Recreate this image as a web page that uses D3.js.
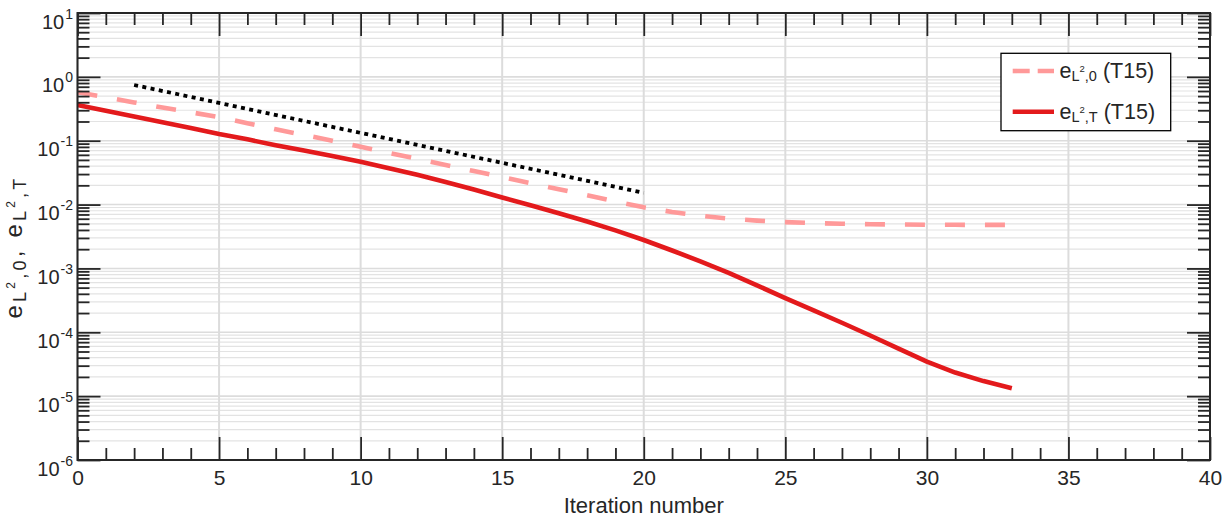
<!DOCTYPE html>
<html><head><meta charset="utf-8">
<script src="https://cdn.jsdelivr.net/npm/d3@7"></script>
<style>
body{margin:0;background:#fff}
svg{display:block}
text{font-family:"Liberation Sans",Arial,Helvetica,sans-serif;fill:#262626}
</style>
</head><body>
<svg id="c" width="1232" height="517"></svg>
<script>
// ---------- data ----------
const iterations = [0,1,2,3,4,5,6,7,8,9,10,11,12,13,14,15,16,17,18,19,20,21,22,23,24,25,26,27,28,29,30,31,32,33];
const errL2_0 = [0.573,0.479,0.398,0.331,0.279,0.233,0.188,0.151,0.123,0.100,
  0.0807,0.0646,0.0519,0.0417,0.0335,0.0269,0.0216,0.0174,0.0140,0.0112,
  0.00906,0.00767,0.00668,0.00603,0.00560,0.00531,0.00513,0.00501,0.00493,0.00488,
  0.00484,0.00482,0.00481,0.00480];
const errL2_T = [0.363,0.295,0.240,0.195,0.158,0.127,0.105,0.0851,0.0700,0.0575,
  0.0468,0.0372,0.0292,0.0226,0.0172,0.0129,0.00977,0.00733,0.00543,0.00394,
  0.00279,0.00191,0.00129,8.51e-4,5.43e-4,3.43e-4,2.21e-4,1.41e-4,8.91e-5,5.56e-5,
  3.47e-5,2.34e-5,1.72e-5,1.33e-5];
const refX = [2, 20];
const refY = [0.746, 0.0153];
const xTicks = [0,5,10,15,20,25,30,35,40];
const yTickExps = [1,0,-1,-2,-3,-4,-5,-6];
const xLabel = "Iteration number";
const legendSub = ["0","T"];
const legendTag = "(T15)";

// ---------- layout ----------
const L=77.5, R=1210, T=13, B=460;
const svg = d3.select("#c");
const x = d3.scaleLinear().domain([0,40]).range([L,R]);
const y = d3.scaleLog().domain([1e-6,10]).range([B,T]);
const axisColor = "#262626";

svg.append("rect").attr("x",0).attr("y",0).attr("width",1232).attr("height",517).attr("fill","#fff");

// grid
const yAll = y.ticks();
const isMajorY = v => Math.abs(Math.log10(v)-Math.round(Math.log10(v)))<1e-9;
const grid = svg.append("g");
grid.selectAll(".ym").data(yAll.filter(v=>!isMajorY(v))).join("line")
  .attr("x1",L).attr("x2",R).attr("y1",d=>y(d)).attr("y2",d=>y(d))
  .attr("stroke","#e3e3e3").attr("stroke-width",1.2);
grid.selectAll(".yM").data(yAll.filter(isMajorY)).join("line")
  .attr("x1",L).attr("x2",R).attr("y1",d=>y(d)).attr("y2",d=>y(d))
  .attr("stroke","#dcdcdc").attr("stroke-width",1.6);
grid.selectAll(".xM").data(xTicks).join("line")
  .attr("y1",T).attr("y2",B).attr("x1",d=>x(d)).attr("x2",d=>x(d))
  .attr("stroke","#dcdcdc").attr("stroke-width",2);

// clip
svg.append("clipPath").attr("id","clip").append("rect")
  .attr("x",L).attr("y",T).attr("width",R-L).attr("height",B-T);
const plot = svg.append("g").attr("clip-path","url(#clip)");

const line = d3.line().x(d=>x(d[0])).y(d=>y(d[1]));
plot.append("path").datum(d3.zip(refX,refY)).attr("d",line)
  .attr("fill","none").attr("stroke","#000").attr("stroke-width",3.8)
  .attr("stroke-dasharray","4,4.4");
plot.append("path").datum(d3.zip(iterations,errL2_0)).attr("d",line)
  .attr("fill","none").attr("stroke","#ff9999").attr("stroke-width",4.6)
  .attr("stroke-dasharray","20,20");
plot.append("path").datum(d3.zip(iterations,errL2_T)).attr("d",line)
  .attr("fill","none").attr("stroke","#e31a1c").attr("stroke-width",4.6)
  .attr("stroke-linejoin","round");

// axes (ticks inward)
const xMinor = x.ticks(40).filter(v=>xTicks.indexOf(v)<0);
const yMinor = yAll.filter(v=>!isMajorY(v));
const yMajor = yTickExps.map(e=>Math.pow(10,e));
function styleAxis(g){
  g.select(".domain").remove();
  g.selectAll(".tick line").attr("stroke",axisColor).attr("stroke-width",1.8);
}
// bottom
svg.append("g").attr("transform",`translate(0,${B})`)
  .call(d3.axisBottom(x).tickValues(xMinor).tickSize(-12).tickFormat("")).call(styleAxis);
const gxb = svg.append("g").attr("transform",`translate(0,${B})`)
  .call(d3.axisBottom(x).tickValues(xTicks).tickSize(-23).tickPadding(0).tickFormat(d3.format("d"))).call(styleAxis);
gxb.selectAll("text").attr("font-size",21).attr("fill",axisColor).attr("dy",null).attr("y",25)
  .style("font-family",'"Liberation Sans",Arial,sans-serif');
// top
svg.append("g").attr("transform",`translate(0,${T})`)
  .call(d3.axisTop(x).tickValues(xMinor).tickSize(-12).tickFormat("")).call(styleAxis);
svg.append("g").attr("transform",`translate(0,${T})`)
  .call(d3.axisTop(x).tickValues(xTicks).tickSize(-23).tickFormat("")).call(styleAxis);
// left
svg.append("g").attr("transform",`translate(${L},0)`)
  .call(d3.axisLeft(y).tickValues(yMinor).tickSize(-12).tickFormat("")).call(styleAxis);
const gyl = svg.append("g").attr("transform",`translate(${L},0)`)
  .call(d3.axisLeft(y).tickValues(yMajor).tickSize(-23).tickFormat("")).call(styleAxis);
// right
svg.append("g").attr("transform",`translate(${R},0)`)
  .call(d3.axisRight(y).tickValues(yMinor).tickSize(-12).tickFormat("")).call(styleAxis);
svg.append("g").attr("transform",`translate(${R},0)`)
  .call(d3.axisRight(y).tickValues(yMajor).tickSize(-23).tickFormat("")).call(styleAxis);

// y tick labels 10^e
gyl.selectAll(".tick").each(function(d){
  const e = Math.round(Math.log10(d));
  const t = d3.select(this).append("text").attr("x",-4.5).attr("y",15)
    .attr("text-anchor","end").attr("fill",axisColor);
  t.append("tspan").attr("font-size",20).text("10");
  t.append("tspan").attr("font-size",14).attr("dx",1).attr("dy",-10).text(e<0?("-"+(-e)):String(e));
});

// box
svg.append("rect").attr("x",L).attr("y",T).attr("width",R-L).attr("height",B-T)
  .attr("fill","none").attr("stroke",axisColor).attr("stroke-width",2);

// rich text helper: parts = [text, size, baselineOffset]
function rich(t, parts){
  let prev = 0;
  parts.forEach(p=>{
    t.append("tspan").attr("font-size",p[1]).attr("dy",p[2]-prev).text(p[0]);
    prev = p[2];
  });
}

// axis titles
svg.append("text").attr("x",(L+R)/2).attr("y",513).attr("text-anchor","middle")
  .attr("font-size",22).attr("fill",axisColor).text(xLabel);
const yl = svg.append("text").attr("text-anchor","middle").attr("fill",axisColor)
  .attr("letter-spacing",3.2)
  .attr("transform",`translate(22,247) rotate(-90)`);
rich(yl,[["e",24,0],["L",18,4],["2",12,-7.5],[","+legendSub[0],18,4],[", e",24,0],
  ["L",18,4],["2",12,-7.5],[","+legendSub[1],18,4]]);

// legend
const lg = svg.append("g");
lg.append("rect").attr("x",1001).attr("y",53.3).attr("width",169.7).attr("height",77.4)
  .attr("fill","#fff").attr("stroke","#000").attr("stroke-width",1.3);
const entries = [
  {sub:legendSub[0], color:"#ff9999", dash:"17,8", ly:71},
  {sub:legendSub[1], color:"#e31a1c", dash:null, ly:111.7}
];
entries.forEach(en=>{
  lg.append("line").attr("x1",1012.7).attr("x2",1054).attr("y1",en.ly).attr("y2",en.ly)
    .attr("stroke",en.color).attr("stroke-width",4.6).attr("stroke-dasharray",en.dash);
  const t = lg.append("text").attr("x",1059.5).attr("y",en.ly+6.8).attr("fill","#000");
  rich(t,[["e",21.5,0],["L",14.5,3],["2",9.5,-6],[","+en.sub,14.5,3],["\u00a0"+legendTag,21.5,0]]);
});
</script>
</body></html>
